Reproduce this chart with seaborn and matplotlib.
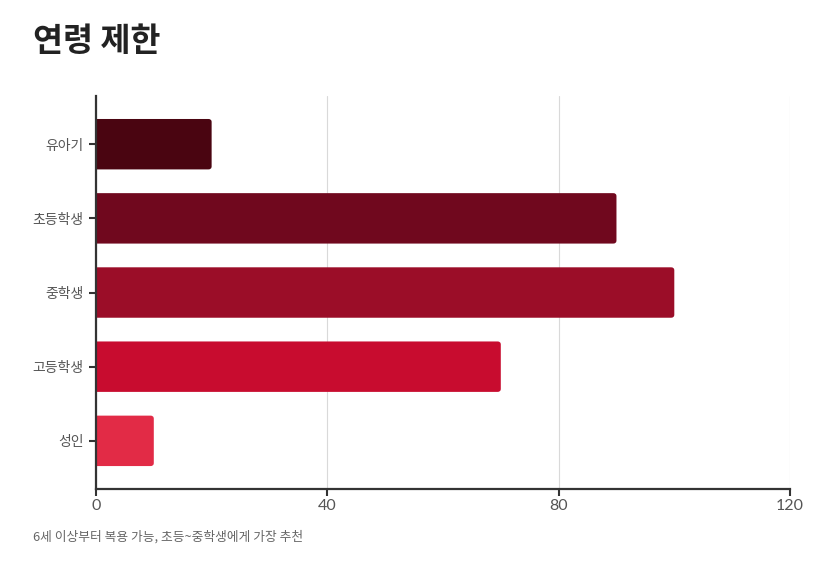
import matplotlib
matplotlib.use("Agg")
import matplotlib.pyplot as plt
from matplotlib.patches import FancyBboxPatch
import seaborn as sns
import pandas as pd

# data
categories = ['유아기', '초등학생', '중학생', '고등학생', '성인']
values = [20, 90, 100, 70, 10]
bar_colors = ['#4a0511', '#70081e', '#9b0d28', '#c80c2f', '#e22b46']
x_ticks = [0, 40, 80, 120]
title = '연령 제한'
note = '6세 이상부터 복용 가능, 초등~중학생에게 가장 추천'

df = pd.DataFrame({'age': categories, 'score': values})

sns.set_theme(style='white')
plt.rcParams['font.family'] = ['Noto Sans CJK KR', 'DejaVu Sans']

fig = plt.figure(figsize=(8.16, 5.68), dpi=100)
ax = fig.add_axes([0.1176, 0.139, 0.8505, 0.692])

sns.barplot(data=df, x='score', y='age', hue='age', palette=bar_colors,
            legend=False, width=0.68, ax=ax, saturation=1)

# swap the plain bars for bars with rounded right corners
for p in list(ax.patches):
    x0, y0 = p.get_x(), p.get_y()
    w, h = p.get_width(), p.get_height()
    fc = p.get_facecolor()
    p.remove()
    rb = FancyBboxPatch((x0 - 1.0, y0), w + 1.0, h,
                        boxstyle='round,pad=0,rounding_size=0.55',
                        mutation_aspect=0.075, facecolor=fc,
                        edgecolor='none', clip_on=True, zorder=2)
    ax.add_patch(rb)

ax.set_xlim(0, 120)
ax.set_ylim(4.65, -0.65)
ax.set_xticks(x_ticks)
ax.set_xlabel('')
ax.set_ylabel('')

ax.grid(axis='x', color='#d9d9d9', linewidth=0.8)
ax.set_axisbelow(True)
for s in ['top', 'right']:
    ax.spines[s].set_visible(False)
for s in ['left', 'bottom']:
    ax.spines[s].set_color('#333333')
    ax.spines[s].set_linewidth(1.6)
    ax.spines[s].set_zorder(3)

ax.tick_params(axis='y', left=True, length=5, width=1.5, color='#333333',
               labelsize=10, labelcolor='#555555', pad=4)
ax.tick_params(axis='x', bottom=True, length=5, width=1.5, color='#333333',
               labelsize=11.5, labelcolor='#555555', pad=2)
for lab in ax.get_xticklabels():
    lab.set_family(['Lato', 'Noto Sans CJK KR'])

fig.text(0.04, 0.927, title, fontsize=23.5, fontweight='bold', color='#222222',
         va='center', ha='left')
fig.text(0.04, 0.054, note, fontsize=9.2, color='#666666', va='center', ha='left')

fig.savefig('out.png', dpi=100)
